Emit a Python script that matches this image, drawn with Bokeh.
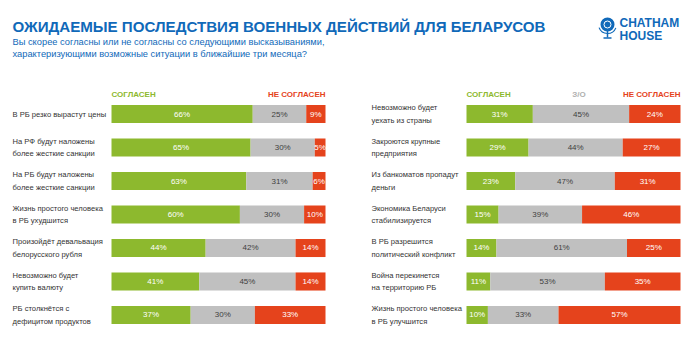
from bokeh.plotting import figure
from bokeh.layouts import column, row
from bokeh.models import Range1d, ColumnDataSource
from bokeh.core.properties import value
from bokeh.embed import file_html
from bokeh.resources import INLINE

# ---------------- data ----------------
left_labels = [
    "В РБ резко вырастут цены",
    "На РФ будут наложены\nболее жесткие санкции",
    "На РБ будут наложены\nболее жесткие санкции",
    "Жизнь простого человека\nв РБ ухудшится",
    "Произойдёт девальвация\nбелорусского рубля",
    "Невозможно будет\nкупить валюту",
    "РБ столкнётся с\nдефицитом продуктов",
]
left_agree = [66, 65, 63, 60, 44, 41, 37]
left_dk = [25, 30, 31, 30, 42, 45, 30]
left_disagree = [9, 5, 6, 10, 14, 14, 33]

right_labels = [
    "Невозможно будет\nуехать из страны",
    "Закроются крупные\nпредприятия",
    "Из банкоматов пропадут\nденьги",
    "Экономика Беларуси\nстабилизируется",
    "В РБ разрешится\nполитический конфликт",
    "Война перекинется\nна территорию РБ",
    "Жизнь простого человека\nв РБ улучшится",
]
right_agree = [31, 29, 23, 15, 14, 11, 10]
right_dk = [45, 44, 47, 39, 61, 53, 33]
right_disagree = [24, 27, 31, 46, 25, 35, 57]

title = "ОЖИДАЕМЫЕ ПОСЛЕДСТВИЯ ВОЕННЫХ ДЕЙСТВИЙ ДЛЯ БЕЛАРУСОВ"
subtitle = ("Вы скорее согласны или не согласны со следующими высказываниями,\n"
            "характеризующими возможные ситуации в ближайшие три месяца?")
hdr_agree = "СОГЛАСЕН"
hdr_dk = "З/О"
hdr_disagree = "НЕ СОГЛАСЕН"

GREEN = "#8db92e"
GRAY = "#c0c0c0"
RED = "#e5431c"
BLUE = "#1069b9"
FONT = "Liberation Sans"

W = 700
H_TOP = 85
H_PANEL = 344 - H_TOP
PX = 2.14  # pixels per percent


def panel(labels, agree, dk, disagree, bar_px, label_px, show_dk):
    x_start = -bar_px / PX
    x_end = (W / 2 - bar_px) / PX
    p = figure(width=W // 2, height=H_PANEL, output_backend="svg",
               toolbar_location=None, min_border=0,
               x_range=Range1d(x_start, x_end),
               y_range=Range1d(6.881, -0.851))
    p.axis.visible = False
    p.grid.visible = False
    p.outline_line_color = None
    p.background_fill_color = "white"
    p.border_fill_color = "white"

    n = len(labels)
    ys = list(range(n))
    tot = [a + d + r for a, d, r in zip(agree, dk, disagree)]
    a_n = [a * 100 / t for a, t in zip(agree, tot)]
    d_n = [d * 100 / t for d, t in zip(dk, tot)]
    a_end = a_n
    d_end = [a + d for a, d in zip(a_n, d_n)]

    src = ColumnDataSource(dict(
        y=ys, a0=[0] * n, a1=a_end, d1=d_end, r1=[100] * n,
        am=[v / 2 for v in a_end],
        dm=[(a + d) / 2 for a, d in zip(a_end, d_end)],
        rm=[(d + 100) / 2 for d in d_end],
        at=[f"{v}%" for v in agree], dt=[f"{v}%" for v in dk],
        rt=[f"{v}%" for v in disagree], lab=labels,
    ))
    h = 0.54
    p.hbar(y="y", left="a0", right="a1", height=h, source=src,
           fill_color=GREEN, line_color=None)
    p.hbar(y="y", left="a1", right="d1", height=h, source=src,
           fill_color=GRAY, line_color=None)
    p.hbar(y="y", left="d1", right="r1", height=h, source=src,
           fill_color=RED, line_color=None)

    common = dict(text_font=value(FONT), text_font_size="8px",
                  text_align="center", text_baseline="middle", y="y",
                  source=src)
    p.text(x="am", text="at", text_color="white", **common)
    p.text(x="dm", text="dt", text_color="#404040", **common)
    p.text(x="rm", text="rt", text_color="white", **common)

    p.text(x=x_start + label_px / PX, y="y", text="lab", source=src,
           text_font=value(FONT), text_font_size="7.6px", text_color="#333333",
           text_align="left", text_baseline="middle", text_line_height=1.35)

    hy = -0.58
    p.text(x=[0], y=[hy], text=[hdr_agree], text_font=value(FONT),
           text_font_size="8px", text_font_style="bold", text_color=GREEN,
           text_align="left", text_baseline="middle")
    p.text(x=[100], y=[hy], text=[hdr_disagree], text_font=value(FONT),
           text_font_size="8px", text_font_style="bold", text_color=RED,
           text_align="right", text_baseline="middle")
    if show_dk:
        p.text(x=[52.6], y=[hy], text=[hdr_dk], text_font=value(FONT),
               text_font_size="8px", text_font_style="bold", text_color="#b0b0b0",
               text_align="center", text_baseline="middle")
    return p


left = panel(left_labels, left_agree, left_dk, left_disagree, 111, 12, False)
right = panel(right_labels, right_agree, right_dk, right_disagree, 116, 21, True)

top = figure(width=W, height=H_TOP, output_backend="svg", toolbar_location=None,
             min_border=0, x_range=Range1d(0, W), y_range=Range1d(H_TOP, 0))
top.axis.visible = False
top.grid.visible = False
top.outline_line_color = None

top.text(x=[12], y=[25.5], text=[title], text_font=value(FONT), text_font_size="15.1px",
         text_font_style="bold", text_color=BLUE, text_align="left",
         text_baseline="middle")
top.text(x=[12], y=[36], text=[subtitle], text_font=value(FONT), text_font_size="9.3px",
         text_color=BLUE, text_align="left", text_baseline="top",
         text_line_height=1.2)
# logo
top.segment(x0=[607], y0=[30], x1=[607], y1=[37], line_color=BLUE, line_width=1.5)
top.segment(x0=[603], y0=[37.5], x1=[611], y1=[37.5], line_color=BLUE, line_width=1.5)
top.arc(x=[607], y=[24], radius=9, start_angle=3.5, end_angle=5.9, direction="anticlock",
        line_color=BLUE, line_width=1.2, radius_units="screen")
top.scatter(x=[607], y=[24], size=14, marker="circle", fill_color=BLUE, line_color=None)
top.scatter(x=[607], y=[24], size=7, marker="circle", fill_color=None,
            line_color="white", line_width=1)
top.text(x=[619], y=[22.5], text=["CHATHAM"], text_font=value(FONT), text_font_size="12px",
         text_font_style="bold", text_color=BLUE, text_align="left", text_baseline="middle")
top.text(x=[619], y=[35], text=["HOUSE"], text_font=value(FONT), text_font_size="12px",
         text_font_style="bold", text_color=BLUE, text_align="left", text_baseline="middle")

layout = column(top, row(left, right, spacing=0), spacing=0)
open("out.html", "w").write(file_html(layout, INLINE))
